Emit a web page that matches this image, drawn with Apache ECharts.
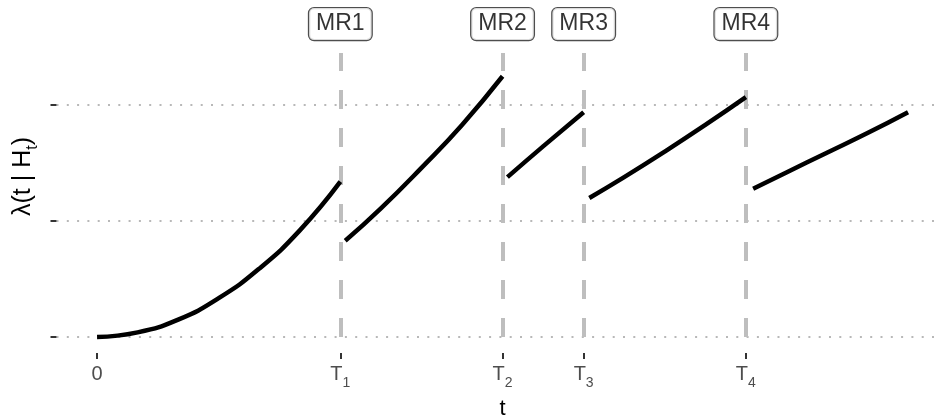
<!DOCTYPE html>
<html lang="en">
  <head>
    <meta charset="utf-8" />
    <title>Intensity with minimal repairs</title>
    <script src="https://cdn.jsdelivr.net/npm/echarts@6.0.0/dist/echarts.min.js"></script>
    <style>
      html, body { margin: 0; padding: 0; background: #fff; }
      #main { width: 936px; height: 418px; }
    </style>
  </head>
  <body>
    <div id="main"></div>
    <script>
      // intensity segments between repairs (t, lambda)
      var seg1T = [0, 0.5, 1, 1.5, 2, 2.5, 3];
      var seg1L = [0, 0.04, 0.15, 0.335, 0.59, 0.92, 1.34];
      var seg2T = [3.06, 3.5, 4, 4.5, 5];
      var seg2L = [0.83, 1.11, 1.46, 1.83, 2.25];
      var seg3T = [5.06, 5.5, 6];
      var seg3L = [1.38, 1.645, 1.94];
      var seg4T = [6.07, 6.5, 7, 7.5, 8];
      var seg4L = [1.2, 1.38, 1.6, 1.83, 2.07];
      var seg5T = [8.09, 8.5, 9, 9.5, 10];
      var seg5L = [1.28, 1.42, 1.59, 1.76, 1.94];

      // x ticks
      var tickValues = [0, 3, 5, 6, 8];
      var tickLabels = ["0", "T1", "T2", "T3", "T4"];
      var yTicks = [0, 1, 2];

      // repair markers
      var repairTimes = [3, 5, 6, 8];
      var repairNames = ["MR1", "MR2", "MR3", "MR4"];
      var repairLabelY = 2.7;
      var repairLineTop = 2.45;

      var FONT = "Liberation Sans";

      function pairs(ts, ls) {
        return ts.map(function (t, i) { return [t, ls[i]]; });
      }

      var segments = [
        pairs(seg1T, seg1L),
        pairs(seg2T, seg2L),
        pairs(seg3T, seg3L),
        pairs(seg4T, seg4L),
        pairs(seg5T, seg5L)
      ];

      var series = segments.map(function (d) {
        return {
          type: "line",
          data: d,
          smooth: true,
          showSymbol: false,
          z: 5,
          lineStyle: { color: "#000", width: 4.5, cap: "butt" }
        };
      });

      series.push({
        type: "scatter",
        z: 3,
        symbolSize: 0,
        data: repairTimes.map(function (t, i) {
          return { name: repairNames[i], value: [t, repairLabelY] };
        }),
        label: {
          show: true,
          position: "inside",
          formatter: "{b}",
          fontFamily: FONT,
          fontSize: 23,
          color: "#000",
          backgroundColor: "#fff",
          borderColor: "#222",
          borderWidth: 1.2,
          borderRadius: 5,
          padding: [5, 7, 4, 7]
        },
        markLine: {
          silent: true,
          symbol: "none",
          label: { show: false },
          lineStyle: { color: "#bebebe", width: 4, type: [19, 19] },
          data: repairTimes.map(function (t) {
            return [{ coord: [t, 0] }, { coord: [t, repairLineTop] }];
          })
        }
      });

      var chart = echarts.init(document.getElementById("main"));
      chart.setOption({
        animation: false,
        grid: {
          left: 56.5,
          right: -12.6,
          top: 0,
          bottom: 65,
          outerBoundsMode: "none"
        },
        xAxis: {
          type: "value",
          min: -0.5,
          max: 10.5,
          name: "t",
          nameLocation: "middle",
          nameGap: 45,
          nameTextStyle: { fontFamily: FONT, fontSize: 22, color: "#000" },
          axisLine: { show: false, onZero: false },
          splitLine: { show: false },
          axisTick: {
            show: true,
            customValues: tickValues,
            length: 6,
            lineStyle: { color: "#333", width: 2 }
          },
          axisLabel: {
            customValues: tickValues,
            margin: 11,
            formatter: function (v) {
              var lab = tickLabels[tickValues.indexOf(v)];
              if (lab.length === 1) return "{m|" + lab + "}";
              return "{m|" + lab.charAt(0) + "}{s|" + lab.slice(1) + "}";
            },
            rich: {
              m: { fontFamily: FONT, fontSize: 20, lineHeight: 20, color: "#4d4d4d", verticalAlign: "top" },
              s: { fontFamily: FONT, fontSize: 14, lineHeight: 14, color: "#4d4d4d", verticalAlign: "top", padding: [12, 0, 0, 0] }
            }
          }
        },
        yAxis: {
          type: "value",
          min: -0.138,
          max: 2.908,
          name: "{a|λ(t | H}{b|t}{a|)}",
          nameLocation: "middle",
          nameGap: 21,
          nameTextStyle: {
            rich: {
              a: { fontFamily: FONT, fontSize: 25, lineHeight: 25, color: "#000", verticalAlign: "top" },
              b: { fontFamily: FONT, fontSize: 16, lineHeight: 16, color: "#000", verticalAlign: "top", padding: [14, 0, 0, 0] }
            }
          },
          axisLine: { show: false, onZero: false },
          axisLabel: { show: false, customValues: yTicks },
          axisTick: {
            show: true,
            customValues: yTicks,
            length: 6,
            lineStyle: { color: "#333", width: 2 }
          },
          splitLine: {
            show: true,
            lineStyle: { color: "#b8b8b8", width: 2, type: [2, 8.3] }
          }
        },
        series: series
      });
    </script>
  </body>
</html>
